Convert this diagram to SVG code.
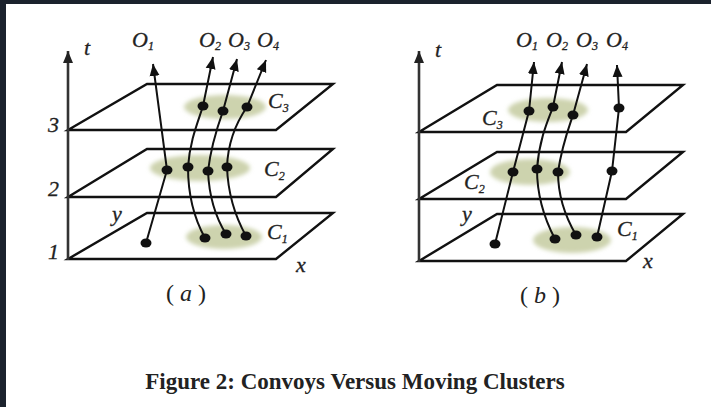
<svg xmlns="http://www.w3.org/2000/svg" width="711" height="407" viewBox="0 0 711 407">
<defs>
<style>
.pl{fill:none;stroke:#111;stroke-width:2.4;stroke-linejoin:miter}
.ax{fill:none;stroke:#333;stroke-width:2.6}
.tr{fill:none;stroke:#111;stroke-width:2;marker-end:url(#ah)}
.dot{fill:#111}
.cl{fill:#cdd3ae;filter:url(#bl)}
.lb{font-family:'Liberation Serif',serif;font-style:italic;font-size:22px;fill:#222;stroke:#222;stroke-width:0.3}
.sb{font-size:12px}
.pn{font-family:'Liberation Serif',serif;font-size:24px;fill:#222}
.cap{font-family:'Liberation Serif',serif;font-weight:bold;font-size:23px;fill:#222}
</style>
<marker id="ah" markerUnits="userSpaceOnUse" markerWidth="13" markerHeight="11" refX="12" refY="5.5" orient="auto"><path d="M0,0.5 L12,5.5 L0,10.5 z" fill="#111"/></marker>
<marker id="axh" markerUnits="userSpaceOnUse" markerWidth="13" markerHeight="11" refX="12" refY="5.5" orient="auto"><path d="M0,0.5 L12,5.5 L0,10.5 z" fill="#222"/></marker>
<filter id="bl" x="-20%" y="-40%" width="140%" height="180%"><feGaussianBlur stdDeviation="2"/></filter>
</defs>
<rect width="711" height="407" fill="#ffffff"/>
<rect x="0" y="0" width="711" height="4" fill="#1b222d"/>
<rect x="0" y="0" width="6" height="407" fill="#1b222d"/>

<g id="panel-a">
<g id="a-planes">
<path class="pl" d="M68,130 L147,84 L333,84 L276,130 Z"/>
<path class="pl" d="M68,197 L147,149 L333,149 L276,197 Z"/>
<path class="pl" d="M68,259 L147,213 L333,213 L276,259 Z"/>
<line class="ax" x1="68" y1="260" x2="68" y2="51" marker-end="url(#axh)"/>
</g>
<g id="a-clusters">
<ellipse class="cl" cx="225" cy="107" rx="41" ry="12"/>
<ellipse class="cl" cx="200" cy="168" rx="50" ry="13"/>
<ellipse class="cl" cx="224" cy="237" rx="38" ry="12"/>
</g>
<g id="a-labels">
<text class="lb" x="84" y="55">t</text>
<text class="lb" x="48" y="132">3</text>
<text class="lb" x="48" y="196">2</text>
<text class="lb" x="48" y="259">1</text>
<text class="lb" x="132" y="47">O<tspan class="sb" dy="3">1</tspan></text>
<text class="lb" x="199" y="47">O<tspan class="sb" dy="3">2</tspan></text>
<text class="lb" x="228" y="47">O<tspan class="sb" dy="3">3</tspan></text>
<text class="lb" x="257" y="47">O<tspan class="sb" dy="3">4</tspan></text>
<text class="lb" x="268" y="108">C<tspan class="sb" dy="4">3</tspan></text>
<text class="lb" x="264" y="176">C<tspan class="sb" dy="4">2</tspan></text>
<text class="lb" x="267" y="239">C<tspan class="sb" dy="4">1</tspan></text>
<text class="lb" x="296" y="272">x</text>
<text class="lb" x="112" y="221">y</text>
<text class="pn" x="186" y="301" text-anchor="middle">( <tspan font-style="italic">a</tspan> )</text>
</g>
</g>

<g id="panel-b">
<g id="b-planes">
<path class="pl" d="M419,132 L497,85 L683,85 L626,132 Z"/>
<path class="pl" d="M419,199 L497,152 L683,152 L626,199 Z"/>
<path class="pl" d="M419,261 L497,214 L683,214 L626,261 Z"/>
<line class="ax" x1="419" y1="262" x2="419" y2="51" marker-end="url(#axh)"/>
</g>
<g id="b-clusters">
<ellipse class="cl" cx="548" cy="110" rx="40" ry="12"/>
<ellipse class="cl" cx="530" cy="172" rx="40" ry="13"/>
<ellipse class="cl" cx="572" cy="240" rx="39" ry="13"/>
</g>
<g id="b-labels">
<text class="lb" x="435" y="57">t</text>
<text class="lb" x="516" y="47">O<tspan class="sb" dy="3">1</tspan></text>
<text class="lb" x="546" y="47">O<tspan class="sb" dy="3">2</tspan></text>
<text class="lb" x="576" y="47">O<tspan class="sb" dy="3">3</tspan></text>
<text class="lb" x="606" y="47">O<tspan class="sb" dy="3">4</tspan></text>
<text class="lb" x="482" y="125">C<tspan class="sb" dy="4">3</tspan></text>
<text class="lb" x="464" y="189">C<tspan class="sb" dy="4">2</tspan></text>
<text class="lb" x="617" y="236">C<tspan class="sb" dy="4">1</tspan></text>
<text class="lb" x="643" y="268">x</text>
<text class="lb" x="462" y="221">y</text>
<text class="pn" x="540" y="303" text-anchor="middle">( <tspan font-style="italic">b</tspan> )</text>
</g>
</g>

<g id="connectors">
<path class="tr" d="M146,243 L167,170 L153,64"/>
<path class="tr" d="M205,238 C195,220 188,195 188,167 C190,140 198,122 203,106 L213,57"/>
<path class="tr" d="M226,234 C216,218 209,195 208,171 C211,145 218,125 223,111 L237,59"/>
<path class="tr" d="M246,236 C236,218 228,195 227,167 C228,140 238,120 247,107 L266,60"/>
<path class="tr" d="M495,244 L513,172 L529,111 L534,62"/>
<path class="tr" d="M555,239 C545,220 537,195 537,169 C539,140 548,120 553,107 L562,62"/>
<path class="tr" d="M576,235 C566,218 558,195 558,172 C562,145 569,127 573,115 L587,64"/>
<path class="tr" d="M597,237 L612,171 L619,108 L617,65"/>
</g>

<g id="dots">
<ellipse class="dot" cx="203" cy="106" rx="5.5" ry="4.5"/>
<ellipse class="dot" cx="223" cy="111" rx="5.5" ry="4.5"/>
<ellipse class="dot" cx="247" cy="107" rx="5.5" ry="4.5"/>
<ellipse class="dot" cx="167" cy="170" rx="5.5" ry="4.5"/>
<ellipse class="dot" cx="188" cy="167" rx="5.5" ry="4.5"/>
<ellipse class="dot" cx="208" cy="171" rx="5.5" ry="4.5"/>
<ellipse class="dot" cx="227" cy="167" rx="5.5" ry="4.5"/>
<ellipse class="dot" cx="146" cy="243" rx="5.5" ry="4.5"/>
<ellipse class="dot" cx="205" cy="238" rx="5.5" ry="4.5"/>
<ellipse class="dot" cx="226" cy="234" rx="5.5" ry="4.5"/>
<ellipse class="dot" cx="246" cy="236" rx="5.5" ry="4.5"/>
<ellipse class="dot" cx="529" cy="111" rx="5.5" ry="4.5"/>
<ellipse class="dot" cx="553" cy="107" rx="5.5" ry="4.5"/>
<ellipse class="dot" cx="573" cy="115" rx="5.5" ry="4.5"/>
<ellipse class="dot" cx="619" cy="108" rx="5.5" ry="4.5"/>
<ellipse class="dot" cx="513" cy="172" rx="5.5" ry="4.5"/>
<ellipse class="dot" cx="537" cy="169" rx="5.5" ry="4.5"/>
<ellipse class="dot" cx="558" cy="172" rx="5.5" ry="4.5"/>
<ellipse class="dot" cx="612" cy="171" rx="5.5" ry="4.5"/>
<ellipse class="dot" cx="495" cy="244" rx="5.5" ry="4.5"/>
<ellipse class="dot" cx="555" cy="239" rx="5.5" ry="4.5"/>
<ellipse class="dot" cx="576" cy="235" rx="5.5" ry="4.5"/>
<ellipse class="dot" cx="597" cy="237" rx="5.5" ry="4.5"/>
</g>

<text id="caption" class="cap" x="355" y="389" text-anchor="middle">Figure 2: Convoys Versus Moving Clusters</text>
</svg>
